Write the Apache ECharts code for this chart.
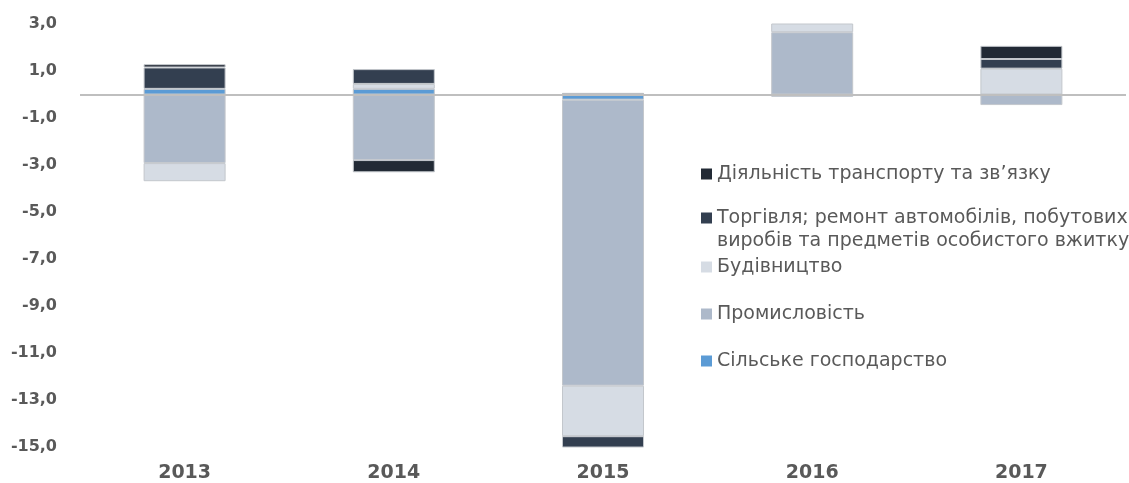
<!DOCTYPE html>
<html>
<head>
<meta charset="utf-8">
<script src="https://cdn.jsdelivr.net/npm/echarts@6/dist/echarts.min.js"></script>
<style>
  html, body { margin: 0; padding: 0; background: #fff; }
  #chart { width: 1129px; height: 483px; }
</style>
</head>
<body>
<div id="chart"></div>
<script>
const years = ['2013', '2014', '2015', '2016', '2017'];
const yTicks = [-15, -13, -11, -9, -7, -5, -3, -1, 1, 3];

// stacked from zero outward in this order
const agriculture = [0.24, 0.24, -0.22, -0.1, 0];
const industry = [-2.92, -2.79, -12.17, 2.65, -0.45];
const construction = [-0.77, 0.21, -2.15, 0.38, 1.10];
const trade = [0.91, 0.63, -0.49, 0, 0.41];
const transport = [0.14, -0.52, 0.07, 0, 0.56];

const names = {
  agriculture: 'Сільське господарство',
  industry: 'Промисловість',
  construction: 'Будівництво',
  trade: 'Торгівля; ремонт автомобілів, побутових виробів та предметів особистого вжитку',
  transport: 'Діяльність транспорту та зв’язку'
};
const colors = {
  agriculture: '#5b9bd5',
  industry: '#adb9ca',
  construction: '#d6dce4',
  trade: '#333f50',
  transport: '#222a35'
};

const fontFamily = 'DejaVu Sans';
const textColor = '#595959';

function barSeries(key, data) {
  return {
    name: names[key],
    type: 'bar',
    stack: 'total',
    data: data,
    barWidth: 82,
    itemStyle: { color: colors[key], borderColor: '#c3c7cc', borderWidth: 1 }
  };
}

const series = [
  barSeries('agriculture', agriculture),
  barSeries('industry', industry),
  barSeries('construction', construction),
  barSeries('trade', trade),
  barSeries('transport', transport)
];
series[0].markLine = {
  silent: true,
  symbol: ['none', 'none'],
  label: { show: false },
  lineStyle: { color: '#bfbfbf', width: 2, type: 'solid' },
  data: [{ yAxis: 0 }],
  z: 10
};

// legend rows, top to bottom
const legendRows = [
  { key: 'transport', top: 158 },
  { key: 'trade', top: 202 },
  { key: 'construction', top: 251 },
  { key: 'industry', top: 298 },
  { key: 'agriculture', top: 345 }
];

const chart = echarts.init(document.getElementById('chart'));
chart.setOption({
  backgroundColor: '#fff',
  animation: false,
  grid: { left: 80, right: 3, top: 24, bottom: 33 },
  xAxis: {
    type: 'category',
    data: years,
    axisLine: { show: false },
    axisTick: { show: false },
    axisLabel: { color: textColor, fontFamily, fontWeight: 'bold', fontSize: 19, margin: 17 }
  },
  yAxis: {
    type: 'value',
    min: -15,
    max: 3,
    interval: 1,
    axisLine: { show: false },
    axisTick: { show: false },
    splitLine: { show: false },
    axisLabel: {
      customValues: yTicks,
      color: textColor,
      fontFamily,
      fontWeight: 'bold',
      fontSize: 16,
      margin: 23,
      formatter: v => v.toFixed(1).replace('.', ',')
    }
  },
  legend: legendRows.map(r => ({
    data: [names[r.key]],
    left: 696,
    top: r.top,
    orient: 'vertical',
    icon: 'rect',
    itemWidth: 11,
    itemHeight: 11,
    itemGap: 0,
    selectedMode: false,
    itemStyle: { borderWidth: 0 },
    formatter: n => n === names.trade ? 'Торгівля; ремонт автомобілів, побутових' : n,
    textStyle: { color: textColor, fontFamily, fontSize: 19, lineHeight: 22 }
  })),
  graphic: [{
    type: 'text',
    left: 717,
    top: 232,
    silent: true,
    style: {
      text: 'виробів та предметів особистого вжитку',
      fill: textColor,
      font: '19px "DejaVu Sans"'
    }
  }],
  series
});
</script>
</body>
</html>
